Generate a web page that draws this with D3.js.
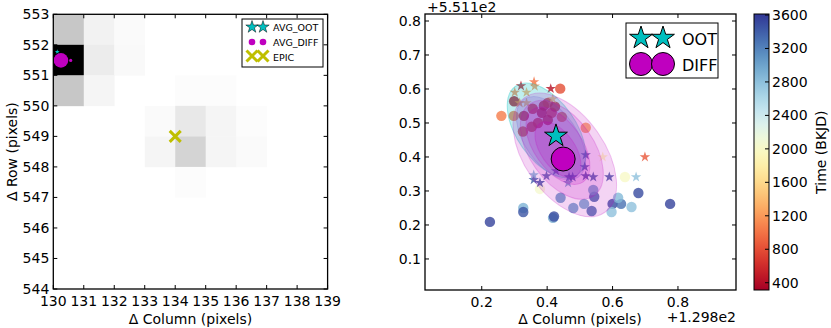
<!DOCTYPE html>
<html><head><meta charset="utf-8">
<script src="https://cdn.jsdelivr.net/npm/d3@7"></script>
<style>body{margin:0;background:#fff}svg{display:block;font-family:"DejaVu Sans",sans-serif}</style>
</head><body><svg id="c" width="831" height="328"></svg>
<script>
// ---------------- DATA ----------------
// Left panel: pixel image (rows 547..552, cols 130..136), flux fraction (0 white .. 1 black)
const imgCols = [130,131,132,133,134,135,136];
const imgRows = [552,551,550,549,548,547];
const imgFlux = [
  [0.22,0.05,0.02,0.00,0.00,0.00,0.00],
  [1.00,0.075,0.025,0.00,0.00,0.00,0.00],
  [0.22,0.04,0.00,0.00,0.012,0.01,0.00],
  [0.00,0.00,0.00,0.02,0.09,0.04,0.01],
  [0.00,0.00,0.00,0.04,0.17,0.04,0.02],
  [0.00,0.00,0.00,0.00,0.012,0.00,0.00]
];
const leftTicksX = [130,131,132,133,134,135,136,137,138,139];
const leftTicksY = [544,545,546,547,548,549,550,551,552,553];
const leftAvgOOT = [130.13, 551.77];
const leftAvgDiff = [130.57, 551.49];
const leftTarget = [130.25, 551.49];
const leftEpic = [134, 549];

// Right panel: per-quarter centroids (offsets: col +129.8, row +551.1), colour = time (BKJD)
const ootX = [0.320,0.360,0.362,0.411,0.301,0.337,0.417,0.316,0.337,0.699,0.570,0.672,
              0.359,0.378,0.398,0.427,0.467,0.464,0.478,0.518,0.541,0.590,0.518,0.515,0.359];
const ootY = [0.609,0.621,0.608,0.601,0.590,0.590,0.571,0.559,0.559,0.400,0.400,0.341,
              0.333,0.324,0.344,0.359,0.341,0.324,0.341,0.344,0.341,0.341,0.406,0.371,0.347];
const ootT = [450,1000,1150,420,1100,1250,1400,1100,1300,850,1900,2800,
              3450,3500,3400,3450,3500,3000,3450,3500,3450,3500,3400,3450,2900];

const diffX = [0.440,0.299,0.260,0.298,0.329,0.326,0.356,0.390,0.402,0.384,0.414,0.424,0.372,0.402,0.353,0.445,
               0.518,0.638,0.378,0.225,0.327,0.327,0.418,0.421,0.441,0.480,0.513,0.536,0.544,0.541,
               0.600,0.626,0.617,0.597,0.658,0.679,0.776];
const diffY = [0.601,0.564,0.521,0.521,0.521,0.475,0.542,0.551,0.559,0.530,0.530,0.548,0.500,0.509,0.489,0.518,
               0.486,0.341,0.306,0.209,0.250,0.238,0.221,0.225,0.280,0.250,0.262,0.241,0.283,0.303,
               0.262,0.262,0.280,0.238,0.253,0.294,0.262];
const diffT = [800,380,1050,1000,500,750,600,500,650,450,700,550,600,500,650,900,
               1200,2000,2050,3550,2900,3450,2950,3500,3100,3050,3000,3350,3400,3000,
               3500,3300,2850,2800,2800,3500,3550];

const avgOOT = [0.427, 0.462];
const avgDiff = [0.449, 0.394];
// uncertainty ellipses: centre x, centre y, semi-major, semi-minor (data units), angle (deg)
const ellOOT = [[0.398,0.478,0.165,0.090,55]];
const ellMid = [[0.412,0.455,0.145,0.080,55]];
const ellDiff = [[0.454,0.406,0.214,0.122,55],[0.445,0.421,0.171,0.098,55],
                 [0.433,0.433,0.135,0.073,55],[0.433,0.421,0.098,0.052,55]];
const rightTicksX = [0.2,0.4,0.6,0.8];
const rightTicksY = [0.1,0.2,0.3,0.4,0.5,0.6,0.7,0.8];
const cbTicks = [400,800,1200,1600,2000,2400,2800,3200,3600];
const cbRange = [313, 3612];

// ---------------- DRAW ----------------
const svg = d3.select("#c");
const FS = 14;

function starPath(R){
  const pts=[];
  for(let i=0;i<10;i++){
    const r = i%2===0 ? R : R*0.382;
    const a = -Math.PI/2 + i*Math.PI/5;
    pts.push([r*Math.cos(a), r*Math.sin(a)]);
  }
  return "M"+pts.map(p=>p[0].toFixed(2)+","+p[1].toFixed(2)).join("L")+"Z";
}

function frameTicks(g, xs, ys, xt, yt, opts){
  const [x0,x1]=xs.range(), [y0,y1]=ys.range();
  const L=4;
  xt.forEach(v=>{
    const px=xs(v);
    g.append("line").attr("x1",px).attr("x2",px).attr("y1",y0).attr("y2",y0-L).attr("stroke","#000");
    g.append("line").attr("x1",px).attr("x2",px).attr("y1",y1).attr("y2",y1+L).attr("stroke","#000");
    g.append("text").attr("x",px).attr("y",y0+17).attr("text-anchor","middle").attr("font-size",FS).text(opts.xfmt?opts.xfmt(v):v);
  });
  yt.forEach(v=>{
    const py=ys(v);
    g.append("line").attr("x1",x0).attr("x2",x0+L).attr("y1",py).attr("y2",py).attr("stroke","#000");
    g.append("line").attr("x1",x1).attr("x2",x1-L).attr("y1",py).attr("y2",py).attr("stroke","#000");
    g.append("text").attr("x",x0-4).attr("y",py+5).attr("text-anchor","end").attr("font-size",FS).text(opts.yfmt?opts.yfmt(v):v);
  });
  g.append("rect").attr("x",x0).attr("y",y1).attr("width",x1-x0).attr("height",y0-y1)
    .attr("fill","none").attr("stroke","#000").attr("stroke-width",1.3);
}

// ----- Left panel -----
const xL = d3.scaleLinear().domain([130,139]).range([53.3,327.6]);
const yL = d3.scaleLinear().domain([544,553]).range([289,14.3]);
const gray = d3.interpolateRgb("#ffffff","#000000");
const gL = svg.append("g");
imgRows.forEach((r,i)=>imgCols.forEach((c,j)=>{
  const f=imgFlux[i][j];
  if(f<=0) return;
  gL.append("rect").attr("x",xL(c)).attr("y",yL(r+1)).attr("width",xL(c+1)-xL(c)+0.3)
    .attr("height",yL(r)-yL(r+1)+0.3).attr("fill",gray(f));
}));
gL.append("circle").attr("cx",xL(leftTarget[0])).attr("cy",yL(leftTarget[1])).attr("r",7.3).attr("fill","#bf00bf");
gL.append("circle").attr("cx",xL(leftAvgDiff[0])).attr("cy",yL(leftAvgDiff[1])).attr("r",1.6).attr("fill","#bf00bf");
gL.append("path").attr("d",starPath(2.5)).attr("transform",`translate(${xL(leftAvgOOT[0])},${yL(leftAvgOOT[1])})`).attr("fill","#00bfbf");
function xMark(g,cx,cy,s,w){
  g.append("path").attr("d",`M${cx-s},${cy-s}L${cx+s},${cy+s}M${cx-s},${cy+s}L${cx+s},${cy-s}`)
    .attr("stroke","#bfbf00").attr("stroke-width",w).attr("fill","none");
}
xMark(gL,xL(leftEpic[0]),yL(leftEpic[1]),5.5,3);
frameTicks(gL,xL,yL,leftTicksX,leftTicksY,{});
gL.append("text").attr("x",xL(134.5)).attr("y",324).attr("text-anchor","middle").attr("font-size",FS).text("\u0394 Column (pixels)");
gL.append("text").attr("transform",`translate(17,${yL(548.5)}) rotate(-90)`).attr("text-anchor","middle").attr("font-size",FS).text("\u0394 Row (pixels)");
// left legend
const lg = gL.append("g");
lg.append("rect").attr("x",242).attr("y",19).attr("width",81).attr("height",48).attr("fill","#fff").attr("stroke","#000").attr("stroke-width",1);
[252,263].forEach(px=>{
  lg.append("path").attr("d",starPath(6.5)).attr("transform",`translate(${px},27)`).attr("fill","#00bfbf").attr("stroke","#000").attr("stroke-width",0.5);
  lg.append("circle").attr("cx",px).attr("cy",42).attr("r",3.3).attr("fill","#bf00bf");
  xMark(lg,px,56,5.5,3);
});
[["AVG_OOT",27],["AVG_DIFF",42],["EPIC",57]].forEach(([t,y])=>{
  lg.append("text").attr("x",273).attr("y",y+3.5).attr("font-size",9.5).text(t);
});

// ----- Right panel -----
const xR = d3.scaleLinear().domain([0.0265,0.9775]).range([425,736]);
const yR = d3.scaleLinear().domain([0.0087,0.8206]).range([290,14]);
const cmap = d3.scaleSequential(d3.interpolateRdYlBu).domain(cbRange);
const kx = xR(1)-xR(0);
svg.append("clipPath").attr("id","cr").append("rect").attr("x",425).attr("y",14).attr("width",311).attr("height",276);
const gR = svg.append("g").attr("clip-path","url(#cr)");
diffX.forEach((v,i)=>{
  gR.append("circle").attr("cx",xR(v)).attr("cy",yR(diffY[i])).attr("r",5.2).attr("fill",cmap(diffT[i])).attr("fill-opacity",0.8);
});
ootX.forEach((v,i)=>{
  gR.append("path").attr("d",starPath(5.5)).attr("transform",`translate(${xR(v)},${yR(ootY[i])})`).attr("fill",cmap(ootT[i])).attr("fill-opacity",0.8);
});
function ell(e,col,op){
  gR.append("ellipse").attr("transform",`translate(${xR(e[0])},${yR(e[1])}) rotate(${e[4]})`)
    .attr("rx",e[2]*kx).attr("ry",e[3]*kx).attr("fill",col).attr("fill-opacity",op)
    .attr("stroke",col).attr("stroke-opacity",op*1.3).attr("stroke-width",1);
}
ellOOT.forEach(e=>ell(e,"#00bfbf",0.25));
ellMid.forEach(e=>ell(e,"#4060d8",0.15));
ellDiff.forEach(e=>ell(e,"#bf00bf",0.17));
gR.append("path").attr("d",starPath(12)).attr("transform",`translate(${xR(avgOOT[0])},${yR(avgOOT[1])})`)
  .attr("fill","#00bfbf").attr("stroke","#000").attr("stroke-width",1);
gR.append("circle").attr("cx",xR(avgDiff[0])).attr("cy",yR(avgDiff[1])).attr("r",12).attr("fill","#bf00bf").attr("stroke","#000").attr("stroke-width",1);
const gRA = svg.append("g");
frameTicks(gRA,xR,yR,rightTicksX,rightTicksY,{xfmt:d3.format(".1f"),yfmt:d3.format(".1f")});
gRA.append("text").attr("x",580).attr("y",324).attr("text-anchor","middle").attr("font-size",FS).text("\u0394 Column (pixels)");
gRA.append("text").attr("x",736).attr("y",322).attr("text-anchor","end").attr("font-size",FS).text("+1.298e2");
gRA.append("text").attr("x",427).attr("y",12).attr("font-size",FS).text("+5.511e2");
// right legend
const rg = gRA.append("g");
rg.append("rect").attr("x",626).attr("y",23).attr("width",92).attr("height",55).attr("fill","#fff").attr("stroke","#000").attr("stroke-width",1);
[641,663].forEach(px=>{
  rg.append("path").attr("d",starPath(12)).attr("transform",`translate(${px},38)`).attr("fill","#00bfbf").attr("stroke","#000").attr("stroke-width",1);
  rg.append("circle").attr("cx",px).attr("cy",64).attr("r",11.5).attr("fill","#bf00bf").attr("stroke","#000").attr("stroke-width",1);
});
rg.append("text").attr("x",682).attr("y",45).attr("font-size",16).text("OOT");
rg.append("text").attr("x",682).attr("y",71).attr("font-size",16).text("DIFF");

// ----- Colorbar -----
const yC = d3.scaleLinear().domain(cbRange).range([290,14]);
const defs = svg.append("defs");
const grad = defs.append("linearGradient").attr("id","cbg").attr("x1",0).attr("y1",1).attr("x2",0).attr("y2",0);
d3.range(0,1.0001,0.05).forEach(t=>grad.append("stop").attr("offset",t).attr("stop-color",d3.interpolateRdYlBu(t)));
const gC = svg.append("g");
gC.append("rect").attr("x",754).attr("y",14).attr("width",15).attr("height",276).attr("fill","url(#cbg)").attr("stroke","#000").attr("stroke-width",1);
cbTicks.forEach(v=>{
  gC.append("line").attr("x1",769).attr("x2",765).attr("y1",yC(v)).attr("y2",yC(v)).attr("stroke","#000");
  gC.append("text").attr("x",772).attr("y",yC(v)+5).attr("font-size",FS).text(v);
});
gC.append("text").attr("transform",`translate(826,${yC(1960)}) rotate(-90)`).attr("text-anchor","middle").attr("font-size",FS).text("Time (BKJD)");
</script></body></html>
